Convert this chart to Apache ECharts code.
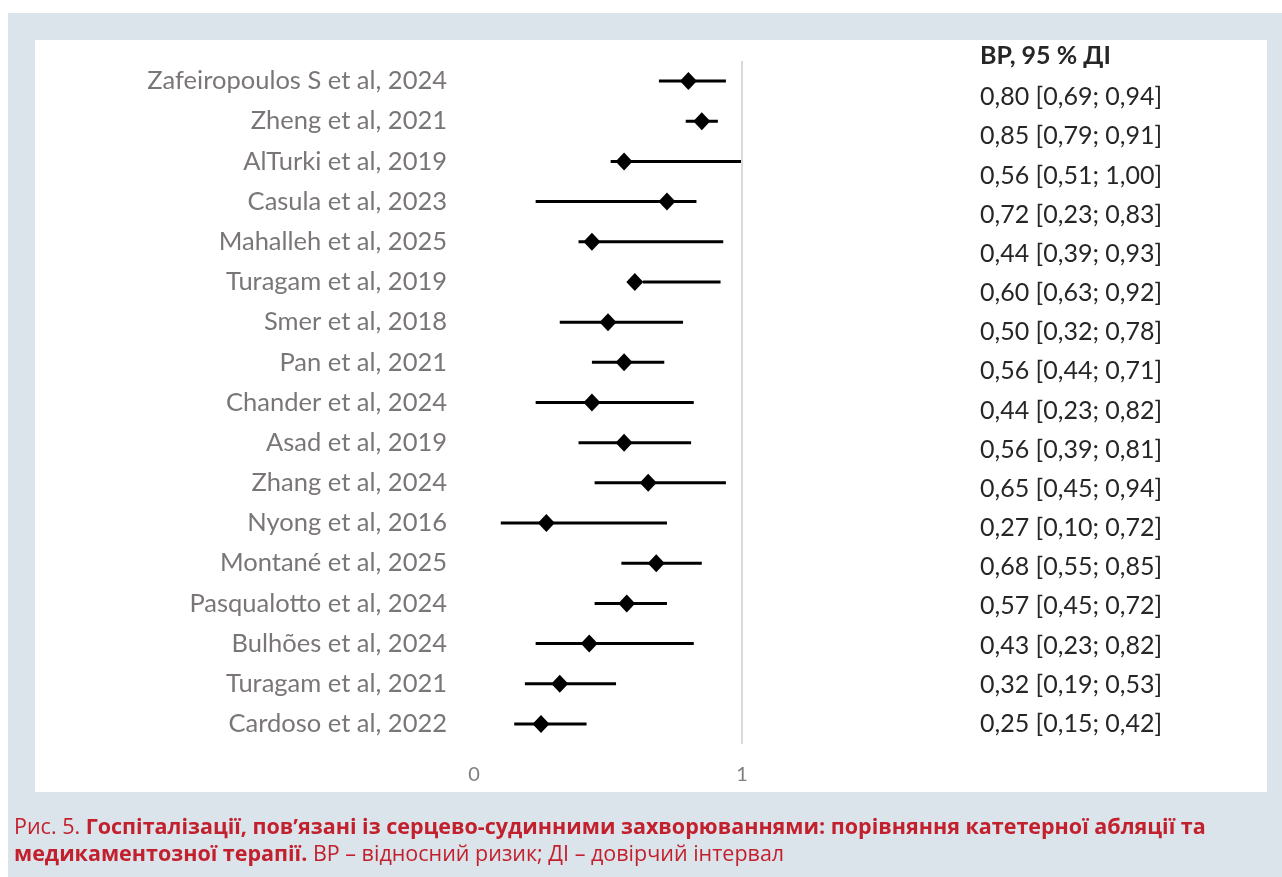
<!DOCTYPE html>
<html>
<head>
<meta charset="utf-8">
<script src="https://cdn.jsdelivr.net/npm/echarts@6/dist/echarts.min.js"></script>
<style>
  html, body { margin: 0; padding: 0; background: #ffffff; }
  #chart { width: 1282px; height: 877px; }
</style>
</head>
<body>
<div id="chart"></div>
<script>
// Studies, top to bottom
const studies = [
  'Zafeiropoulos S et al, 2024',
  'Zheng et al, 2021',
  'AlTurki et al, 2019',
  'Casula et al, 2023',
  'Mahalleh et al, 2025',
  'Turagam et al, 2019',
  'Smer et al, 2018',
  'Pan et al, 2021',
  'Chander et al, 2024',
  'Asad et al, 2019',
  'Zhang et al, 2024',
  'Nyong et al, 2016',
  'Montané et al, 2025',
  'Pasqualotto et al, 2024',
  'Bulhões et al, 2024',
  'Turagam et al, 2021',
  'Cardoso et al, 2022'
];
// Relative risk (point estimate)
const rr    = [0.80, 0.85, 0.56, 0.72, 0.44, 0.60, 0.50, 0.56, 0.44, 0.56, 0.65, 0.27, 0.68, 0.57, 0.43, 0.32, 0.25];
// 95 % CI lower bound
const ciLow = [0.69, 0.79, 0.51, 0.23, 0.39, 0.63, 0.32, 0.44, 0.23, 0.39, 0.45, 0.10, 0.55, 0.45, 0.23, 0.19, 0.15];
// 95 % CI upper bound
const ciHigh = [0.94, 0.91, 1.00, 0.83, 0.93, 0.92, 0.78, 0.71, 0.82, 0.81, 0.94, 0.72, 0.85, 0.72, 0.82, 0.53, 0.42];
// X axis tick labels that are shown
const xTicks = [0, 1];

const fmt = v => v.toFixed(2).replace('.', ',');
const ciText = rr.map((v, i) => `${fmt(v)} [${fmt(ciLow[i])}; ${fmt(ciHigh[i])}]`);

const chart = echarts.init(document.getElementById('chart'), null, { renderer: 'canvas' });

const labelFont = 'Lato';
const captionFont = 'Open Sans';

chart.setOption({
  animation: false,
  backgroundColor: '#ffffff',
  graphic: [
    { type: 'rect', z: -10, shape: { x: 8, y: 13, width: 1274, height: 864 }, style: { fill: '#dbe4ea' } },
    { type: 'rect', z: -9, shape: { x: 35, y: 40, width: 1232, height: 752 }, style: { fill: '#ffffff' } },
    {
      type: 'text', left: 980, top: 43,
      style: { text: 'ВР, 95 % ДІ', fill: '#262626', font: `bold 25px "${labelFont}"` }
    },
    {
      type: 'text', left: 14, top: 814,
      style: {
        text: '{r|Рис. 5. }{b|Госпіталізації, пов’язані із серцево-судинними захворюваннями: порівняння катетерної абляції та}\n{b|медикаментозної терапії.}{r| ВР – відносний ризик; ДІ – довірчий інтервал}',
        lineHeight: 27,
        rich: {
          r: { fill: '#c3202e', fontFamily: captionFont, fontSize: 21.5, fontWeight: 'normal', lineHeight: 27 },
          b: { fill: '#c3202e', fontFamily: captionFont, fontSize: 21.5, fontWeight: 'bold', lineHeight: 27 }
        }
      }
    }
  ],
  grid: [
    { left: 474, width: 402, top: 61, height: 683, containLabel: false },
    { left: 900, width: 80, top: 77.5, height: 666, containLabel: false }
  ],
  xAxis: [
    {
      gridIndex: 0, type: 'value', min: 0, max: 1.5, interval: 1,
      axisLine: { show: false }, axisTick: { show: false }, splitLine: { show: false },
      axisLabel: {
        color: '#7f7f7f', fontSize: 20, fontFamily: labelFont, margin: 21,
        formatter: v => (xTicks.includes(v) ? String(v) : '')
      }
    },
    { gridIndex: 1, type: 'value', show: false, min: 0, max: 1 }
  ],
  yAxis: [
    {
      gridIndex: 0, type: 'category', data: studies, inverse: true,
      axisLine: { show: false }, axisTick: { show: false }, splitLine: { show: false },
      axisLabel: { color: '#7a7676', fontSize: 25.5, fontFamily: labelFont, margin: 27 }
    },
    {
      gridIndex: 1, type: 'category', data: ciText, inverse: true, position: 'right',
      axisLine: { show: false }, axisTick: { show: false }, splitLine: { show: false },
      axisLabel: { color: '#262626', fontSize: 25, fontFamily: labelFont, margin: 0, align: 'left' }
    }
  ],
  series: [
    {
      // Confidence interval whiskers
      type: 'custom',
      xAxisIndex: 0, yAxisIndex: 0,
      data: studies.map((s, i) => [ciLow[i], i, ciHigh[i]]),
      encode: { x: 0, y: 1 },
      renderItem: (params, api) => {
        const a = api.coord([api.value(0), api.value(1)]);
        const b = api.coord([api.value(2), api.value(1)]);
        return {
          type: 'line',
          shape: { x1: a[0], y1: a[1], x2: b[0], y2: b[1] },
          style: { stroke: '#000000', lineWidth: 3 }
        };
      },
      z: 2
    },
    {
      // Point estimates
      type: 'scatter',
      xAxisIndex: 0, yAxisIndex: 0,
      symbol: 'diamond', symbolSize: [17, 18],
      itemStyle: { color: '#000000', opacity: 1 },
      data: studies.map((s, i) => [rr[i], i]),
      markLine: {
        silent: true, symbol: 'none', label: { show: false },
        lineStyle: { color: '#d9d9d9', width: 2, type: 'solid' },
        data: [{ xAxis: 1 }]
      },
      z: 3
    },
    {
      // Keeps the value column axis active
      type: 'scatter', xAxisIndex: 1, yAxisIndex: 1,
      symbolSize: 0, silent: true,
      data: ciText.map((t, i) => [0, i])
    }
  ]
});
</script>
</body>
</html>
